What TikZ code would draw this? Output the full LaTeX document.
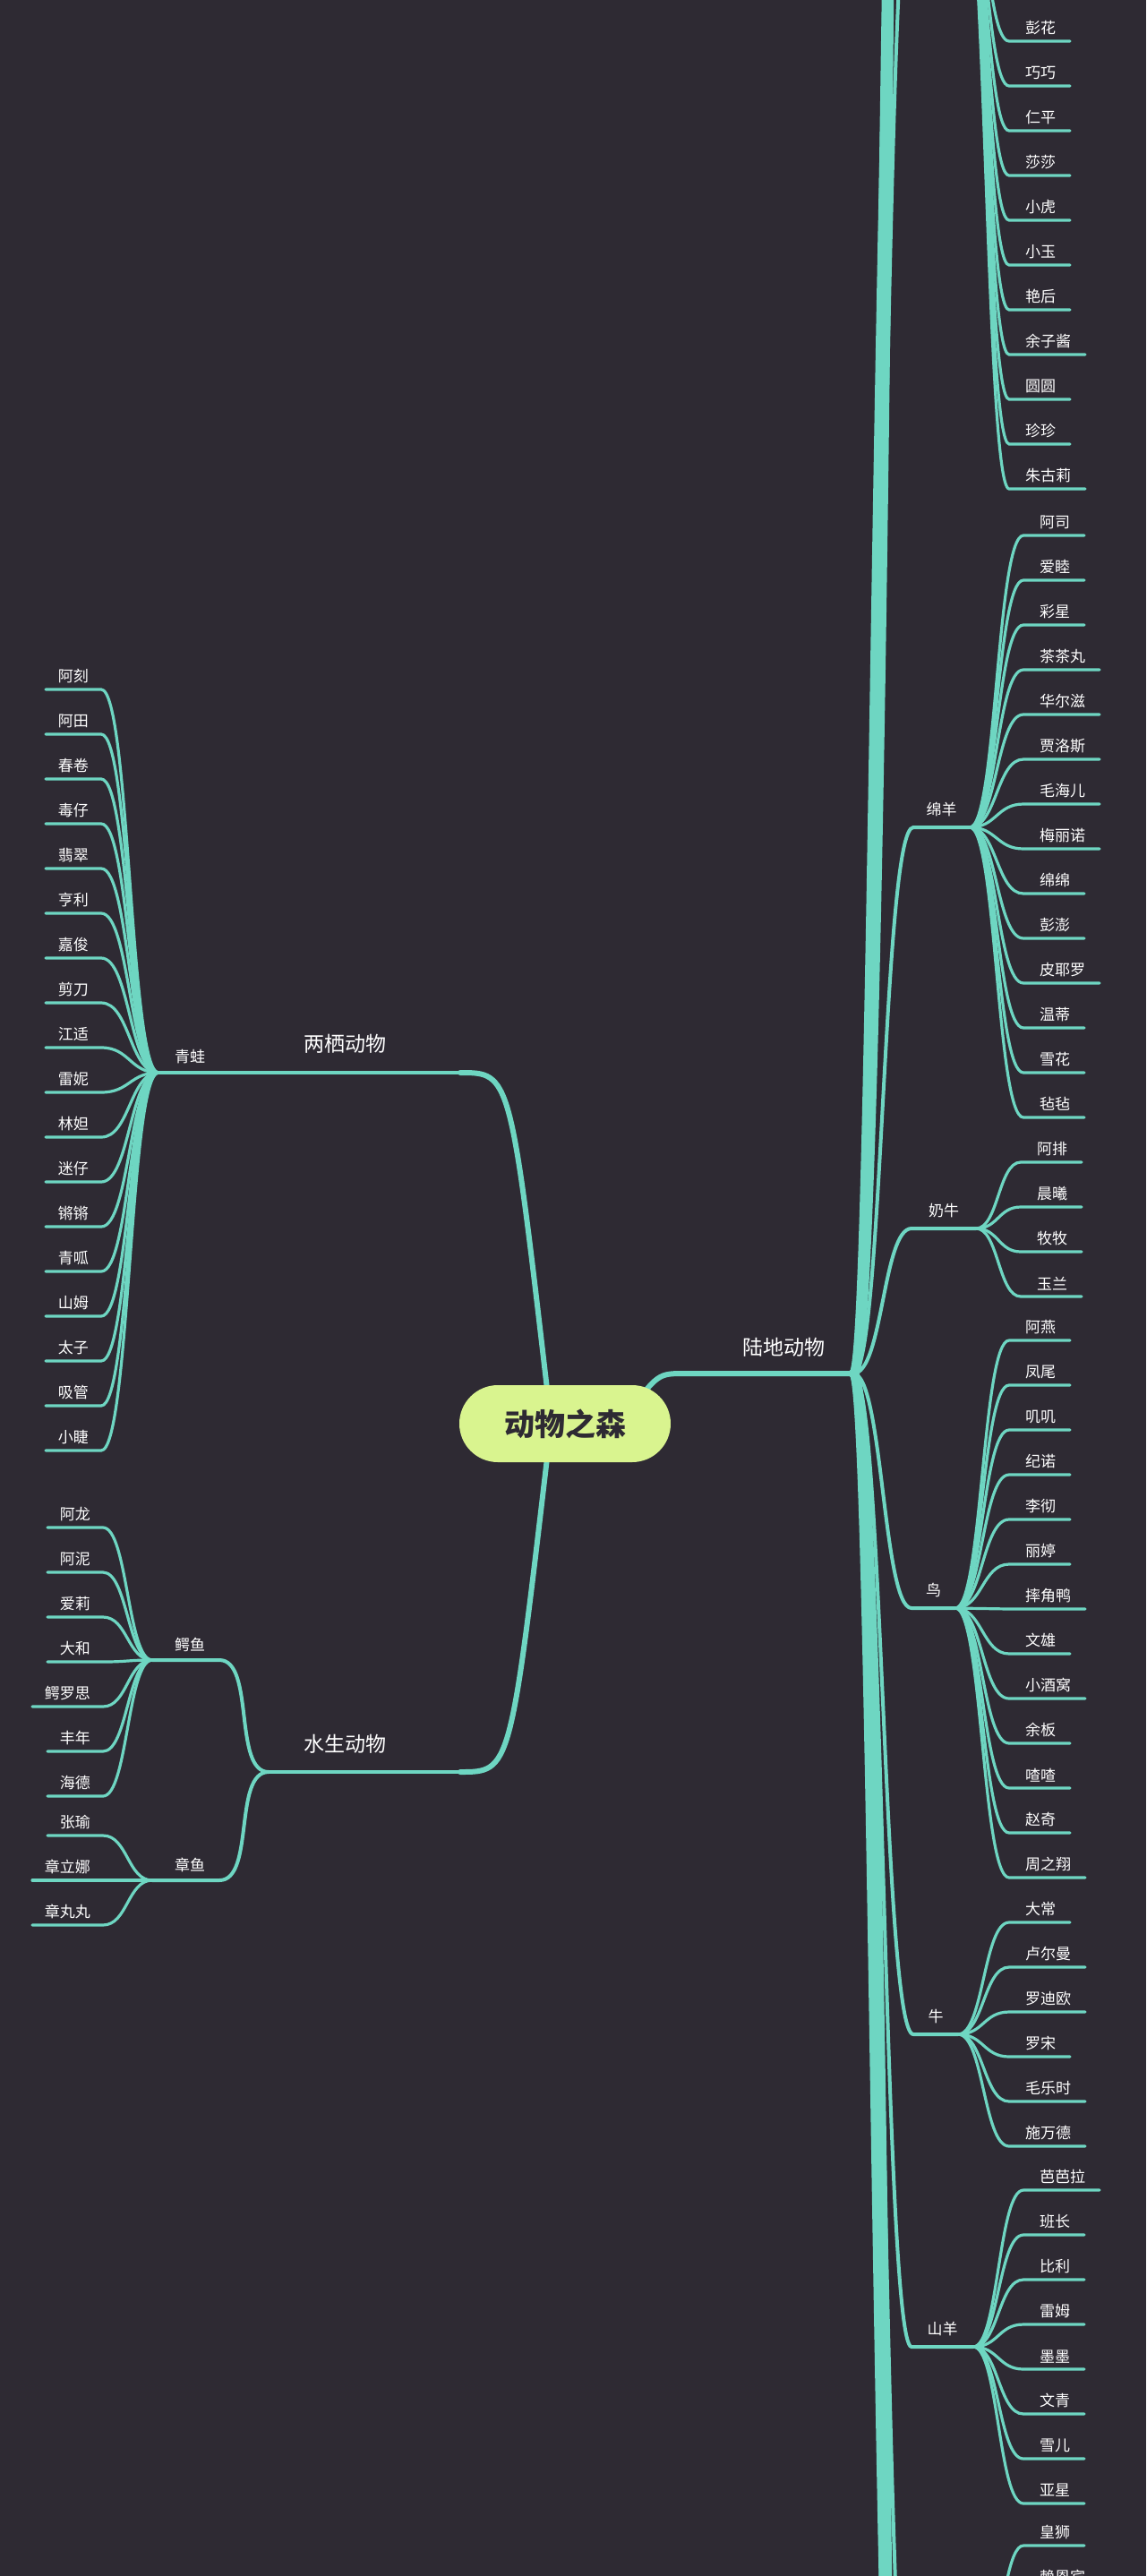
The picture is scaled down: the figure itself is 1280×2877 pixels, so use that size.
\documentclass[tikz,border=0pt]{standalone}
\usepackage{fontspec}
\setmainfont{Noto Sans CJK SC}
\usetikzlibrary{calc}
\definecolor{bgc}{HTML}{2E2A33}
\definecolor{teal}{HTML}{6ED6C2}
\definecolor{rootc}{HTML}{D9F48F}
\definecolor{roott}{HTML}{2E2A33}
\tikzset{
  leaf/.style={draw=teal,line width=3.2pt,line cap=round},
  grp/.style={draw=teal,line width=4pt,line cap=round},
  ghost/.style={draw=teal,line width=10pt},
  mainb/.style={draw=teal,line width=6pt,line cap=round},
  leaftext/.style={text=white,font=\fontsize{17}{17}\selectfont,inner sep=0pt},
  glabel/.style={text=white,font=\fontsize{17}{17}\selectfont,inner sep=0pt},
  mlabel/.style={text=white,font=\fontsize{23}{23}\selectfont,inner sep=0pt},
}
% #1 id, #2 label, #3 sx, #4 cx, #5 cy, #6 leafx, #7 y0, #8 list
\newcommand\RGroup[8]{%
  \coordinate (#1s) at (#3,#5);
  \coordinate (#1c) at (#4,#5);
  \draw[grp] (land) .. controls (986,1534) and (986,#5) .. (#1s) -- (#1c);
  \node[glabel] at ({(#3+#4)/2},{#5-20}) {#2};
  \foreach \t/\w [count=\i from 0] in {#8} {
    \pgfmathsetmacro\ly{#7+50*\i}
    \pgfmathsetmacro\len{17*\w+34}
    \pgfmathsetmacro\mx{(#4+#6)/2}
    \coordinate (#1-\i) at (#6,\ly);
    \draw[leaf] (#1c) .. controls (\mx,#5) and (\mx,\ly) .. (#1-\i) -- ++(\len,0);
    \node[leaftext,anchor=south west] at ({#6+18},{\ly-7}) {\t};
  }
}
% left: #1 id, #2 label, #3 cx, #4 cy, #5 leaf right x, #6 y0, #7 list
\newcommand\LGroup[7]{%
  \coordinate (#1c) at (#3,#4);
  \foreach \t/\w [count=\i from 0] in {#7} {
    \pgfmathsetmacro\ly{#6+50*\i}
    \pgfmathsetmacro\len{17*\w+28}
    \pgfmathsetmacro\mx{(#3+#5)/2}
    \coordinate (#1-\i) at (#5,\ly);
    \draw[leaf] (#1c) .. controls (\mx,#4) and (\mx,\ly) .. (#1-\i) -- ++(-\len,0);
    \node[leaftext,anchor=south east] at ({#5-14},{\ly-7}) {\t};
  }
}
\begin{document}
\begin{tikzpicture}[x=1pt,y=-1pt]
\useasboundingbox (0,0) rectangle (1280,2877);
\fill[bgc] (0,0) rectangle (1280,2877);
\clip (0,0) rectangle (1280,2877);

\coordinate (land) at (953,1534);
\coordinate (landL) at (765,1534);
\coordinate (amph) at (514,1198);
\coordinate (amphL) at (300,1198);
\coordinate (aqua) at (514,1979);
\coordinate (aquaL) at (300,1979);

% main branches
\draw[mainb] (amph) .. controls (570,1198) .. (612,1560);
\draw[mainb] (aqua) .. controls (570,1979) .. (612,1620);
\draw[mainb] (700,1580) .. controls (735,1534) .. (landL) -- (land);
\draw[grp] (amph) -- (amphL);
\draw[grp] (aqua) -- (aquaL);
\node[mlabel] (lland) at (875,1505) {陆地动物};
\node[mlabel] (lamph) at (385,1166) {两栖动物};
\node[mlabel] (laqua) at (385,1948) {水生动物};

% ghost trunk branches (groups outside the picture)
\foreach \gy/\gx in {-400/978,-800/984,-1300/990,-1900/996,-2600/1002} {
  \draw[ghost] (land) .. controls (\gx,1534) and (\gx,\gy) .. (1018,\gy);
}
\foreach \gy/\gx in {3500/978,3900/984,4400/990,5000/996,5700/1002} {
  \draw[ghost] (land) .. controls (\gx,1534) and (\gx,\gy) .. (1018,\gy);
}

% right groups
\RGroup{ga}{}{1018}{1075}{-150}{1127}{46}{彭花/2,巧巧/2,仁平/2,莎莎/2,小虎/2,小玉/2,艳后/2,余子酱/3,圆圆/2,珍珍/2,朱古莉/3}
\RGroup{gb}{绵羊}{1020}{1083}{924}{1143}{598}{阿司/2,爱睦/2,彩星/2,茶茶丸/3,华尔滋/3,贾洛斯/3,毛海儿/3,梅丽诺/3,绵绵/2,彭澎/2,皮耶罗/3,温蒂/2,雪花/2,毡毡/2}
\RGroup{gc}{奶牛}{1018}{1090}{1372}{1140}{1298}{阿排/2,晨曦/2,牧牧/2,玉兰/2}
\RGroup{gd}{鸟}{1018}{1067}{1796}{1127}{1497}{阿燕/2,凤尾/2,叽叽/2,纪诺/2,李彻/2,丽婷/2,摔角鸭/3,文雄/2,小酒窝/3,余板/2,喳喳/2,赵奇/2,周之翔/3}
\RGroup{ge}{牛}{1020}{1070}{2272}{1127}{2147}{大常/2,卢尔曼/3,罗迪欧/3,罗宋/2,毛乐时/3,施万德/3}
\RGroup{gf}{山羊}{1018}{1087}{2621}{1143}{2446}{芭芭拉/3,班长/2,比利/2,雷姆/2,墨墨/2,文青/2,雪儿/2,亚星/2}
\RGroup{gg}{}{1018}{1080}{3100}{1143}{2843}{皇狮/2,赖恩宾/3}

% left groups
\draw[grp] (amphL) -- (177,1198);
\node[glabel] (lfrog) at (212,1180) {青蛙};
\LGroup{fa}{青蛙}{177}{1198}{113}{770}{阿刻/2,阿田/2,春卷/2,毒仔/2,翡翠/2,亨利/2,嘉俊/2,剪刀/2,江适/2,雷妮/2,林妲/2,迷仔/2,锵锵/2,青呱/2,山姆/2,太子/2,吸管/2,小睫/2}

\coordinate (croc) at (170,1854);
\coordinate (octo) at (170,2100);
\draw[grp] (aquaL) .. controls (260,1979) and (285,1854) .. (245,1854) -- (croc);
\draw[grp] (aquaL) .. controls (260,1979) and (285,2100) .. (245,2100) -- (octo);
\node[glabel] (lcroc) at (212,1837) {鳄鱼};
\node[glabel] (locto) at (212,2083) {章鱼};
\LGroup{fb}{鳄鱼}{170}{1854}{115}{1706}{阿龙/2,阿泥/2,爱莉/2,大和/2,鳄罗思/3,丰年/2,海德/2}
\LGroup{fc}{章鱼}{170}{2100}{115}{2050}{张瑜/2,章立娜/3,章丸丸/3}

% root
\node[fill=rootc,rounded corners=43pt,minimum width=236pt,minimum height=86pt,text=roott,font=\fontsize{34}{34}\selectfont\bfseries] (root) at (631,1590) {动物之森};
\end{tikzpicture}
\end{document}
